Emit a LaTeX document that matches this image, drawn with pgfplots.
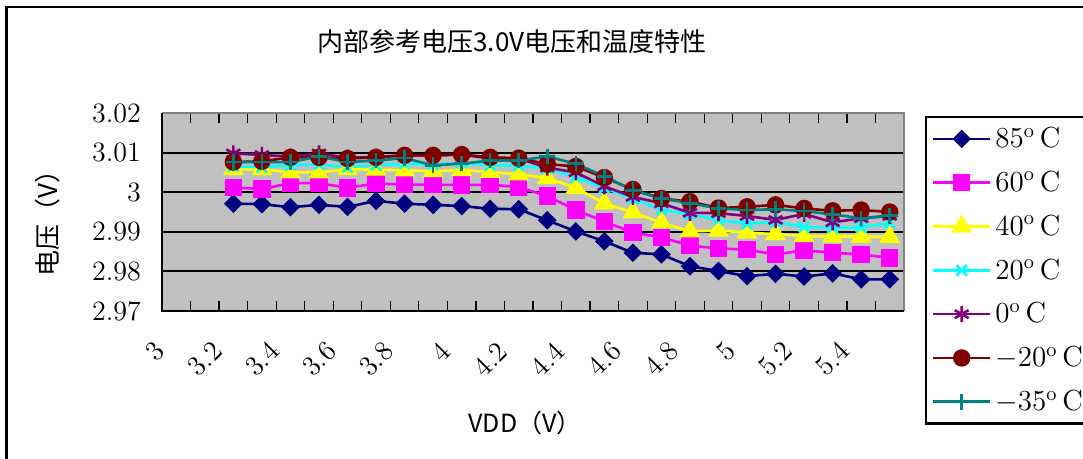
\documentclass[border=0pt]{standalone}
\usepackage{fontspec}
\usepackage{pgfplots}
\usepackage{pgfplotstable}
\pgfplotsset{compat=1.18}
\newfontfamily\cjk{Noto Sans CJK SC}
\definecolor{bg}{HTML}{C0C0C0}
\definecolor{cnavy}{HTML}{000080}
\definecolor{cmag}{HTML}{FF00FF}
\definecolor{cyel}{HTML}{FFFF00}
\definecolor{ccyan}{HTML}{00FFFF}
\definecolor{cpurp}{HTML}{800080}
\definecolor{cdred}{HTML}{800000}
\definecolor{cteal}{HTML}{008080}
\definecolor{bordergray}{HTML}{808080}

\pgfplotstableread{
x    t85    t60    t40    t20    t0     tm20   tm35
2.5  2.9971 3.0012 3.0058 3.0065 3.0098 3.0076 3.0076
3.5  2.9970 3.0008 3.0058 3.0063 3.0094 3.0078 3.0076
4.5  2.9962 3.0023 3.0050 3.0068 3.0090 3.0088 3.0076
5.5  2.9968 3.0023 3.0050 3.0070 3.0098 3.0088 3.0090
6.5  2.9963 3.0011 3.0058 3.0063 3.0087 3.0085 3.0076
7.5  2.9978 3.0022 3.0057 3.0068 3.0089 3.0088 3.0080
8.5  2.9971 3.0019 3.0055 3.0072 3.0093 3.0093 3.0086
9.5  2.9968 3.0019 3.0053 3.0070 3.0093 3.0093 3.0068
10.5 2.9965 3.0018 3.0056 3.0074 3.0095 3.0095 3.0072
11.5 2.9958 3.0019 3.0051 3.0068 3.0085 3.0088 3.0080
12.5 2.9957 3.0013 3.0045 3.0067 3.0085 3.0086 3.0080
13.5 2.9929 2.9990 3.0036 3.0060 3.0062 3.0071 3.0090
14.5 2.9901 2.9955 3.0011 3.0038 3.0050 3.0065 3.0072
15.5 2.9876 2.9926 2.9972 3.0011 3.0015 3.0037 3.0040
16.5 2.9847 2.9898 2.9949 2.9983 2.9988 3.0007 3.0005
17.5 2.9843 2.9886 2.9923 2.9956 2.9972 2.9984 2.9984
18.5 2.9813 2.9865 2.9901 2.9944 2.9948 2.9976 2.9972
19.5 2.9801 2.9858 2.9903 2.9930 2.9947 2.9960 2.9959
20.5 2.9788 2.9855 2.9898 2.9920 2.9940 2.9963 2.9955
21.5 2.9794 2.9843 2.9894 2.9925 2.9930 2.9968 2.9957
22.5 2.9787 2.9853 2.9889 2.9912 2.9945 2.9959 2.9952
23.5 2.9795 2.9847 2.9888 2.9910 2.9924 2.9953 2.9944
24.5 2.9780 2.9843 2.9888 2.9911 2.9934 2.9955 2.9934
25.5 2.9780 2.9834 2.9887 2.9922 2.9940 2.9950 2.9941
}\data

\begin{document}
\begin{tikzpicture}
\useasboundingbox (0,0) rectangle (541.5pt,229.5pt);
% chart frame (left and top edges)
\draw[black, line width=1.2pt] (3.3pt,0) -- (3.3pt,225.9pt) -- (545pt,225.9pt);
% title
\node[font=\cjk\fontsize{13}{13}\selectfont] at (256pt,208.5pt) {内部参考电压3.0V电压和温度特性};
% axis titles
\node[font=\cjk\fontsize{13}{13}\selectfont, rotate=90] at (24pt,121pt) {电压（V）};
\node[font=\cjk\fontsize{12.5}{12.5}\selectfont] at (262.5pt,18pt) {VDD（V）};
\begin{axis}[
  at={(81pt,74pt)}, anchor=south west,
  scale only axis, width=371pt, height=99pt,
  xmin=0, xmax=26, ymin=2.97, ymax=3.02,
  clip=false,
  axis background/.style={fill=bg},
  axis line style={draw=none},
  xtick={0,2,4,6,8,10,12,14,16,18,20,22,24},
  xticklabels={3,3.2,3.4,3.6,3.8,4,4.2,4.4,4.6,4.8,5,5.2,5.4},
  minor xtick={1,3,5,7,9,11,13,15,17,19,21,23,25,26},
  ytick={2.97,2.98,2.99,3,3.01,3.02},
  yticklabels={2.97,2.98,2.99,3,3.01,3.02},
  tick align=inside,
  major tick length=5pt,
  minor tick length=5pt,
  tick style={black, line width=0.6pt},
  ymajorgrids=true,
  major grid style={black, line width=1pt},
  ticklabel style={font=\fontsize{14}{14}\selectfont},
  xticklabel style={rotate=45, anchor=east, inner sep=1pt},
  xticklabel shift=17pt,
  yticklabel shift=7pt,
  legend style={at={(1.028,0.985)}, anchor=north west, draw=black, line width=1.2pt,
    fill=white, font=\fontsize{14.5}{16}\selectfont, row sep=6.2pt,
    inner xsep=3pt, inner ysep=3pt},
  legend cell align=left,
  legend image code/.code={\draw[mark repeat=2,mark phase=2,#1] plot coordinates {(0cm,0cm) (0.5cm,0cm) (1cm,0cm)};},
]
\addplot[color=cnavy, line width=1.3pt, mark=square*, mark size=2.65pt, mark options={rotate=45, fill=cnavy}] table[x=x,y=t85]{\data};
\addlegendentry{85\textsuperscript{o}\,C}
\addplot[color=cmag, line width=1.3pt, mark=square*, mark size=3.7pt, mark options={fill=cmag}] table[x=x,y=t60]{\data};
\addlegendentry{60\textsuperscript{o}\,C}
\addplot[color=cyel, line width=1.3pt, mark=triangle*, mark size=4.7pt, mark options={fill=cyel}] table[x=x,y=t40]{\data};
\addlegendentry{40\textsuperscript{o}\,C}
\addplot[color=ccyan, line width=1.3pt, mark=x, mark size=3.7pt] table[x=x,y=t20]{\data};
\addlegendentry{20\textsuperscript{o}\,C}
\addplot[color=cpurp, line width=1.3pt, mark=asterisk, mark size=4pt] table[x=x,y=t0]{\data};
\addlegendentry{0\textsuperscript{o}\,C}
\addplot[color=cdred, line width=1.3pt, mark=*, mark size=3.7pt, mark options={fill=cdred}] table[x=x,y=tm20]{\data};
\addlegendentry{$-$20\textsuperscript{o}\,C}
\addplot[color=cteal, line width=1.3pt, mark=+, mark size=3.9pt] table[x=x,y=tm35]{\data};
\addlegendentry{$-$35\textsuperscript{o}\,C}
\draw[bordergray, line width=1.1pt] (rel axis cs:0,1) -- (rel axis cs:1,1) -- (rel axis cs:1,0);
\draw[black, line width=1.2pt] (rel axis cs:0,1) -- (rel axis cs:0,0) -- (rel axis cs:1,0);
\end{axis}
\end{tikzpicture}
\end{document}
